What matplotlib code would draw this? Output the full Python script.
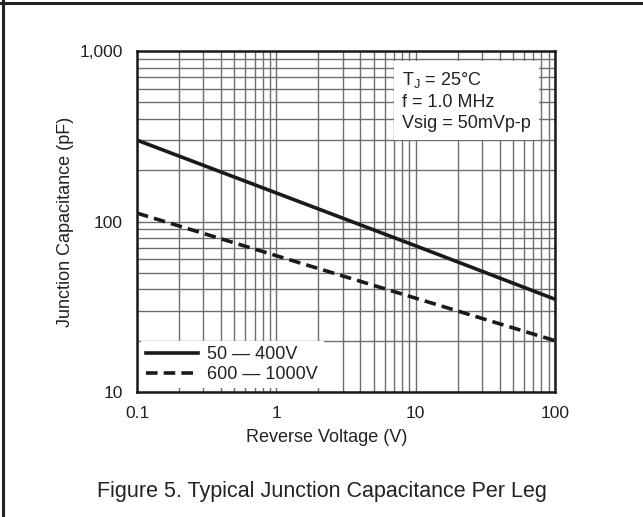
import matplotlib
matplotlib.use("Agg")
import matplotlib.pyplot as plt
from matplotlib.ticker import FixedLocator, NullFormatter
from matplotlib.lines import Line2D

# Data
voltage = [0.1, 1, 10, 100]
cap_50_400 = [300, 147, 72, 35]
cap_600_1000 = [112, 63, 35.5, 20]
series_labels = ["50 \u2014 400V", "600 \u2014 1000V"]
x_ticks = [0.1, 1, 10, 100]
x_tick_labels = ["0.1", "1", "10", "100"]
y_ticks = [10, 100, 1000]
y_tick_labels = ["10", "100", "1,000"]

plt.rcParams['font.family'] = ['Liberation Sans', 'DejaVu Sans']

fig = plt.figure(figsize=(6.43, 5.17), dpi=100)
ax = fig.add_axes([137/643, 1-392/517, (555-137)/643, (392-51)/517])

# Figure border (top and left only)
fig.add_artist(Line2D([0.004, 0.004], [0, 1], transform=fig.transFigure, color='#222222', lw=2.2))
fig.add_artist(Line2D([0, 1], [0.995, 0.995], transform=fig.transFigure, color='#222222', lw=2.2))

ax.set_xscale('log')
ax.set_yscale('log')
ax.set_xlim(0.1, 100)
ax.set_ylim(10, 1000)

gcol = '#6e6e6e'
ax.grid(True, which='both', color=gcol, lw=1.0)
ax.set_axisbelow(True)

ax.plot(voltage, cap_50_400, color='#1a1a1a', lw=2.6, label=series_labels[0], zorder=3)
ax.plot(voltage, cap_600_1000, color='#1a1a1a', lw=2.6, ls=(0, (3.2, 1.7)), label=series_labels[1], zorder=3)

ax.xaxis.set_major_locator(FixedLocator(x_ticks))
ax.set_xticklabels(x_tick_labels)
ax.yaxis.set_major_locator(FixedLocator(y_ticks))
ax.set_yticklabels(y_tick_labels)
ax.xaxis.set_minor_formatter(NullFormatter())
ax.yaxis.set_minor_formatter(NullFormatter())
ax.tick_params(which='both', length=0, labelsize=12.5, colors='#222222')
ax.tick_params(axis='x', pad=10)
ax.tick_params(axis='y', pad=10)

for s in ax.spines.values():
    s.set_color('#1a1a1a')
    s.set_linewidth(1.8)
    s.set_zorder(5)

ax.set_xlabel("Reverse Voltage (V)", fontsize=13, color='#222222')
ax.xaxis.set_label_coords((327-137)/418, -(429-392)/341)
ax.set_ylabel("Junction Capacitance (pF)", fontsize=13, color='#222222')
ax.yaxis.set_label_coords((74-137)/418, 0.5)

leg = ax.legend(loc='lower left', frameon=True, fancybox=False, edgecolor='white',
                framealpha=1.0, fontsize=13, handlelength=2.9, handletextpad=0.5,
                borderaxespad=0.2, labelspacing=0.15, borderpad=0.3)
leg.get_frame().set_linewidth(0)
for t in leg.get_texts():
    t.set_color('#222222')

ax.text(0.635, 0.945, "T$_\\mathregular{J}$ = 25\u00b0C\nf = 1.0 MHz\nVsig = 50mVp-p",
        transform=ax.transAxes, ha='left', va='top', fontsize=13, color='#222222',
        linespacing=1.32, zorder=4,
        bbox=dict(boxstyle='square,pad=0.45', facecolor='white', edgecolor='none'))

fig.text(322/643, 1-492/517, "Figure 5. Typical Junction Capacitance Per Leg",
         ha='center', va='center', fontsize=15.5, color='#222222')

fig.savefig("out.png", dpi=100, facecolor='white')
